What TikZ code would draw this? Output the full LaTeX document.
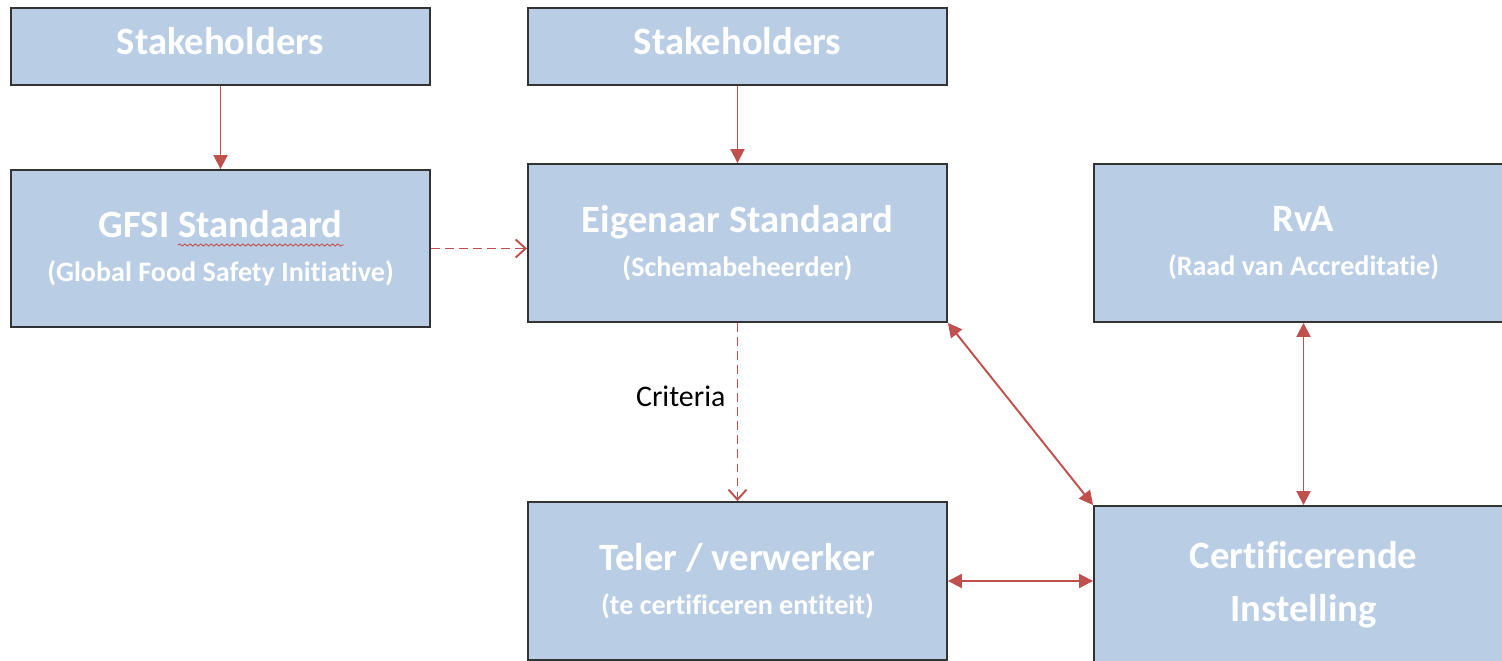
\documentclass[tikz,border=0pt]{standalone}
\usepackage{fontspec}
\setmainfont[Ligatures=CommonOff]{Carlito}
\usetikzlibrary{arrows.meta,decorations.pathmorphing}

\definecolor{boxblue}{HTML}{B9CDE5}
\definecolor{arrowred}{HTML}{C0504D}

\tikzset{
    box/.style={draw=black!80, line width=1.1pt, fill=boxblue, text=white,
        minimum width=8.38cm, minimum height=3.16cm, align=center, inner sep=0pt,
        font=\bfseries\fontsize{22}{26}\selectfont},
    headbox/.style={box, minimum height=1.54cm},
    link/.style={draw=arrowred, line width=1.1pt},
    solidarrow/.style={link, -{Triangle[length=0.28cm, width=0.28cm]}},
    twoway/.style={link, {Triangle[length=0.28cm, width=0.28cm]}-{Triangle[length=0.28cm, width=0.28cm]}},
    dasharrow/.style={link, dash pattern=on 5pt off 3pt, -{Straight Barb[length=0.2cm, width=0.36cm, line width=1.1pt]}}
}

\newcommand{\subline}[1]{{\fontsize{16}{19}\selectfont #1}}

\begin{document}
\begin{tikzpicture}[x=0.02cm, y=-0.02cm]
    \useasboundingbox[fill=white] (0,0) rectangle (1502,660);

    % Top row
    \node[headbox, text depth=6pt] (sholdA) at (220.5, 46.5) {Stakeholders};
    \node[headbox, text depth=6pt] (sholdB) at (737.5, 46.5) {Stakeholders};

    % Standards
    \node[box, minimum height=3.14cm] (gfsi) at (220.5, 248.5) {GFSI Standaard\\[-1pt]\subline{(Global Food Safety Initiative)}};
    \node[box] (owner) at (737.5, 243) {Eigenaar Standaard\\[-1pt]\subline{(Schemabeheerder)}};
    \node[box] (rva) at (1303.5, 243) {RvA\\[-1pt]\subline{(Raad van Accreditatie)}};

    % Bottom row
    \node[box] (grower) at (737.5, 581) {Teler / verwerker\\[-1pt]\subline{(te certificeren entiteit)}};
    \node[box] (certbody) at (1303.5, 585) {Certificerende\\[4pt]Instelling};

    % Spell-check underline
    \draw[arrowred, line width=0.5pt, decorate, decoration={snake, amplitude=0.6pt, segment length=3pt}]
        (178, 245) -- (344, 245);

    % Connectors
    \draw[solidarrow] (sholdA) -- (gfsi);
    \draw[solidarrow] (sholdB) -- (owner);
    \draw[dasharrow] (gfsi.east) -- (gfsi.east -| owner.west);
    \draw[dasharrow] (owner.south) -- node[pos=0.41, left, xshift=-3pt, text=black, font=\fontsize{17}{20}\selectfont] (critlabel) {Criteria} (grower.north);
    \draw[twoway] (owner.south east) -- (certbody.north west);
    \draw[twoway] (rva.south) -- (certbody.north);
    \draw[twoway] (grower.east) -- (grower.east -| certbody.west);
\end{tikzpicture}
\end{document}
